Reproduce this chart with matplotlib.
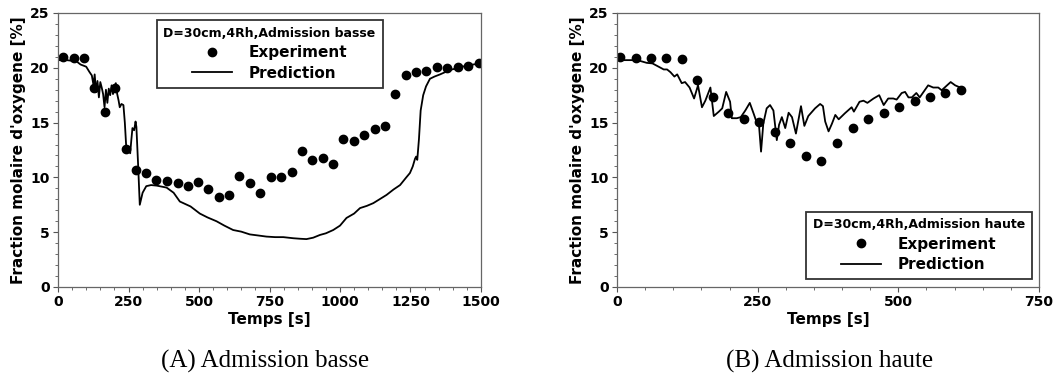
import numpy as np
import matplotlib
matplotlib.use("Agg")
import matplotlib.pyplot as plt
from matplotlib.ticker import MultipleLocator

# (A) Admission basse
exp_a_t = [18, 56, 92, 128, 166, 203, 240, 276, 313, 349, 387, 424, 460, 497, 533, 570,
           607, 642, 680, 718, 755, 791, 829, 865, 901, 938, 974, 1011, 1048, 1086, 1123,
           1159, 1196, 1233, 1269, 1306, 1343, 1380, 1417, 1454, 1492]
exp_a_o2 = [21.0, 20.9, 20.9, 18.2, 16.0, 18.2, 12.6, 10.65, 10.4, 9.8, 9.7, 9.5, 9.25, 9.6,
            8.9, 8.2, 8.4, 10.1, 9.5, 8.6, 10.05, 10.05, 10.5, 12.4, 11.6, 11.8, 11.25, 13.5,
            13.3, 13.9, 14.4, 14.7, 17.6, 19.3, 19.6, 19.75, 20.1, 20.0, 20.1, 20.2, 20.4]
pred_a_t = [0, 30, 65, 80, 100, 112, 120, 126, 130, 135, 140, 145, 150, 155, 160, 165, 170,
            175, 180, 185, 190, 195, 200, 205, 210, 215, 219, 225, 232, 237, 243, 250, 256,
            260, 264, 270, 275, 278, 284, 290, 300, 313, 330, 350, 385, 410, 432, 470, 503,
            530, 562, 590, 621, 650, 680, 710, 739, 770, 799, 834, 860, 881, 905, 929, 950,
            976, 1000, 1023, 1050, 1071, 1095, 1118, 1140, 1165, 1190, 1213, 1235, 1248,
            1258, 1266, 1270, 1274, 1280, 1286, 1295, 1305, 1319, 1335, 1355, 1390, 1420,
            1449, 1496]
pred_a_o2 = [20.7, 20.7, 20.6, 20.3, 20.1, 19.6, 19.3, 18.4, 19.4, 17.8, 18.8, 17.3, 18.7,
             18.2, 17.6, 16.4, 18.0, 16.8, 18.1, 17.5, 18.4, 17.6, 18.3, 18.6, 17.6, 17.0,
             16.4, 16.7, 16.6, 15.0, 12.3, 12.6, 12.2, 13.4, 14.5, 14.3, 15.1, 14.6, 11.2,
             7.5, 8.6, 9.2, 9.3, 9.25, 9.07, 8.6, 7.8, 7.35, 6.7, 6.35, 6.0, 5.6, 5.2, 5.05,
             4.8, 4.7, 4.6, 4.55, 4.55, 4.45, 4.4, 4.37, 4.5, 4.75, 4.9, 5.2, 5.6, 6.3, 6.7,
             7.2, 7.4, 7.65, 8.0, 8.4, 8.9, 9.3, 10.0, 10.4, 11.0, 11.7, 11.9, 11.6, 13.5,
             16.1, 17.5, 18.3, 19.0, 19.2, 19.4, 19.8, 20.0, 20.2, 20.4]

# (B) Admission haute
exp_b_t = [5, 33, 60, 87, 115, 143, 170, 198, 226, 253, 281, 308, 336, 363, 391, 419, 446,
           474, 501, 529, 556, 583, 611]
exp_b_o2 = [21.0, 20.9, 20.9, 20.9, 20.8, 18.9, 17.3, 15.85, 15.35, 15.1, 14.1, 13.15,
            11.95, 11.5, 13.15, 14.5, 15.35, 15.9, 16.45, 16.95, 17.35, 17.7, 18.0]
pred_b_t = [0, 36, 53, 63, 74, 83, 89, 95, 102, 107, 115, 121, 129, 137, 144, 151, 157,
            166, 172, 181, 187, 194, 201, 204, 213, 220, 228, 236, 243, 249, 252, 256, 260,
            266, 272, 278, 284, 288, 293, 299, 305, 311, 318, 327, 333, 340, 352, 361, 366,
            370, 376, 382, 388, 394, 405, 417, 421, 431, 438, 445, 456, 466, 474, 482, 491,
            497, 506, 512, 518, 524, 532, 538, 553, 562, 571, 577, 593, 601, 610]
pred_b_o2 = [20.7, 20.7, 20.45, 20.4, 20.1, 19.85, 19.85, 19.6, 19.2, 19.4, 18.6, 18.7,
             18.2, 17.2, 18.4, 16.4, 17.0, 18.2, 15.6, 16.0, 16.3, 17.8, 16.9, 15.4, 15.4,
             15.5, 16.1, 16.8, 15.8, 14.9, 15.0, 12.35, 14.9, 16.3, 16.6, 16.1, 13.4, 14.8,
             15.5, 14.5, 15.9, 15.5, 14.0, 16.5, 14.7, 15.6, 16.3, 16.7, 16.5, 15.1, 14.2,
             14.9, 15.7, 15.3, 15.85, 16.4, 16.0, 16.9, 17.0, 16.8, 17.2, 17.5, 16.6, 17.2,
             17.2, 17.1, 17.7, 17.8, 17.3, 17.3, 17.7, 17.3, 18.4, 18.2, 18.2, 17.95, 18.7,
             18.4, 18.2]

plt.rcParams['font.family'] = 'DejaVu Sans'
plt.rcParams['font.weight'] = 'bold'

fig = plt.figure(figsize=(10.54, 3.74), dpi=100)
ax1 = fig.add_axes([58/1054, 1 - 287/374, 423/1054, 274/374])
ax2 = fig.add_axes([617/1054, 1 - 287/374, 422/1054, 274/374])


def style(ax, xmax, xmajor, leg_title, leg_loc, leg_anchor):
    ax.set_xlim(0, xmax)
    ax.set_ylim(0, 25)
    ax.xaxis.set_major_locator(MultipleLocator(xmajor))
    ax.xaxis.set_minor_locator(MultipleLocator(50))
    ax.yaxis.set_major_locator(MultipleLocator(5))
    ax.yaxis.set_minor_locator(MultipleLocator(1))
    ax.tick_params(which='major', length=3.5, width=0.8, labelsize=10, color='#555555',
                   top=False, right=False, pad=2.5)
    ax.tick_params(which='minor', length=2, width=0.6, color='#555555')
    for lab in ax.get_xticklabels() + ax.get_yticklabels():
        lab.set_fontweight('bold')
    for s in ax.spines.values():
        s.set_color('#666666')
        s.set_linewidth(0.9)
    ax.set_xlabel('Temps [s]', fontsize=11, fontweight='bold', labelpad=2)
    ax.set_ylabel("Fraction molaire d'oxygene [%]", fontsize=11, fontweight='bold',
                  labelpad=3)
    leg = ax.legend(loc=leg_loc, bbox_to_anchor=leg_anchor, title=leg_title,
                    fontsize=11, title_fontsize=9, fancybox=False, edgecolor='#333333',
                    framealpha=1, handlelength=2.6, handletextpad=1.1, borderpad=0.45,
                    labelspacing=0.35, alignment='center', borderaxespad=0)
    leg.get_title().set_fontweight('bold')
    leg.get_frame().set_linewidth(1.3)
    for t in leg.get_texts():
        t.set_fontweight('bold')


ax1.plot(exp_a_t, exp_a_o2, 'o', color='black', markersize=6, label='Experiment')
ax1.plot(pred_a_t, pred_a_o2, '-', color='black', linewidth=1.3, label='Prediction')
style(ax1, 1500, 250, 'D=30cm,4Rh,Admission basse', 'upper center', (0.5, 0.974))

ax2.plot(exp_b_t, exp_b_o2, 'o', color='black', markersize=6, label='Experiment')
ax2.plot(pred_b_t, pred_b_o2, '-', color='black', linewidth=1.3, label='Prediction')
style(ax2, 750, 250, 'D=30cm,4Rh,Admission haute', 'lower right', (0.983, 0.029))

fig.text(265/1054, 1 - 361/374, '(A) Admission basse', ha='center', va='center',
         fontsize=18, family='Liberation Serif', fontweight='normal')
fig.text(830/1054, 1 - 361/374, '(B) Admission haute', ha='center', va='center',
         fontsize=18, family='Liberation Serif', fontweight='normal')

fig.savefig('out.png', dpi=100)
